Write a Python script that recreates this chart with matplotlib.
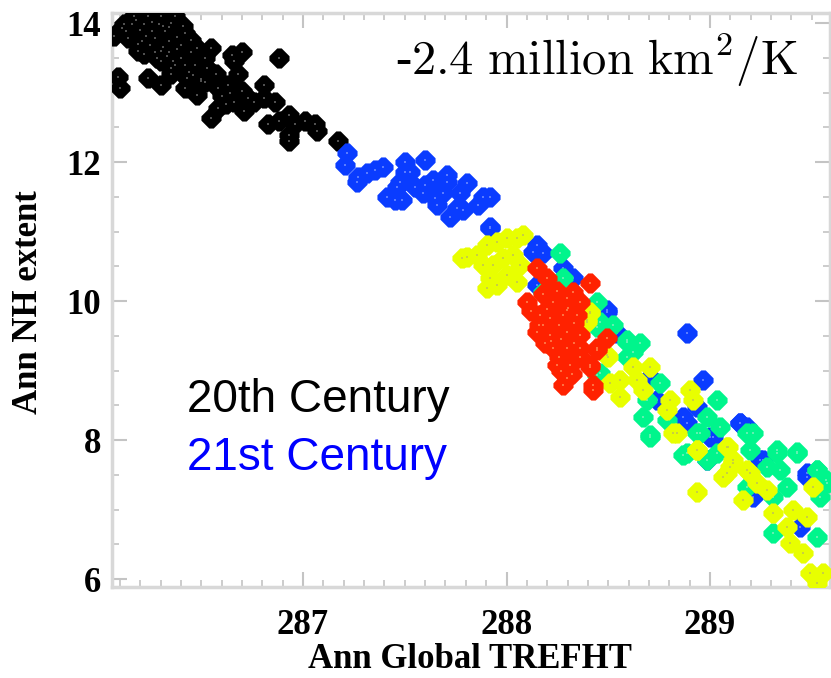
import numpy as np
import matplotlib
matplotlib.use('Agg')
import matplotlib.pyplot as plt
from matplotlib.ticker import MultipleLocator

plt.rcParams['mathtext.fontset'] = 'cm'

# 20th century members (black)
x_20th = [286.07, 286.11, 286.09, 286.10, 286.17, 286.24, 286.30, 286.37, 286.16, 286.22,
          286.29, 286.35, 286.42, 286.45, 286.14, 286.21, 286.27, 286.34, 286.40, 286.45,
          286.27, 286.34, 286.30, 286.37, 286.35, 286.48, 286.55, 286.52, 286.47, 286.53,
          286.65, 286.70, 286.66, 286.88, 286.24, 286.30, 286.43, 286.42, 286.48, 286.50,
          286.57, 286.58, 286.63, 286.68, 286.70, 286.73, 286.66, 286.62, 286.58, 286.55,
          286.71, 286.76, 286.81, 286.81, 286.86, 286.83, 286.88, 286.93, 286.96, 287.01,
          287.06, 287.07, 286.93, 286.93, 287.17, 286.20, 286.26, 286.32, 286.38, 286.25,
          286.31, 286.28, 286.33, 286.40, 286.36, 286.19, 286.23, 286.31, 286.44, 286.50,
          286.13, 286.18, 286.26, 286.34, 286.41, 286.38, 286.30, 286.12, 286.19, 286.22,
          286.35, 286.42, 286.46, 286.52, 286.60, 286.64]
y_20th = [13.81, 13.93, 13.23, 13.07, 14.10, 14.10, 14.10, 14.10, 13.98, 13.98,
          13.98, 14.00, 13.86, 13.76, 13.78, 13.74, 13.78, 13.74, 13.69, 13.59,
          13.59, 13.59, 13.45, 13.40, 13.26, 13.64, 13.64, 13.50, 13.40, 13.35,
          13.54, 13.59, 13.45, 13.50, 13.21, 13.11, 13.21, 13.07, 12.97, 13.16,
          13.26, 13.07, 13.11, 13.26, 13.02, 12.92, 12.87, 12.83, 12.78, 12.63,
          12.73, 12.87, 13.11, 12.92, 12.87, 12.54, 12.59, 12.68, 12.54, 12.59,
          12.54, 12.44, 12.39, 12.30, 12.30, 13.90, 13.88, 13.88, 13.80, 13.68,
          13.66, 13.50, 13.52, 13.50, 13.45, 13.70, 13.82, 13.95, 13.30, 13.20,
          13.88, 14.05, 14.02, 13.94, 13.95, 13.62, 13.60, 13.98, 13.60, 13.55,
          13.35, 13.40, 13.25, 13.15, 12.95, 13.00]

# 21st century members (blue)
x_21st = [287.215, 287.207, 287.272, 287.313, 287.354, 287.395, 287.264, 287.502, 287.502, 287.526,
          287.600, 287.477, 287.461, 287.411, 287.485, 287.452, 287.551, 287.600, 287.641, 287.592,
          287.706, 287.706, 287.649, 287.657, 287.690, 287.805, 287.772, 287.755, 287.723, 287.788,
          287.886, 287.919, 287.862, 287.919,
          287.919, 288.148, 288.181, 288.132, 288.279, 288.328, 288.492, 288.525, 288.148,
          288.492, 288.541, 288.623, 288.885, 288.967, 288.705, 288.738, 288.869, 288.935, 289.148,
          289.180, 289.000, 289.262, 289.475, 288.885, 289.016, 289.147, 288.984, 289.246, 289.475,
          289.442, 289.213]
y_21st = [12.125, 11.957, 11.789, 11.837, 11.885, 11.933, 11.717, 12.005, 11.861, 11.861,
          12.029, 11.717, 11.646, 11.502, 11.454, 11.454, 11.646, 11.670, 11.741, 11.550,
          11.813, 11.717, 11.478, 11.382, 11.550, 11.693, 11.550, 11.334, 11.214, 11.310,
          11.502, 11.502, 11.382, 11.070,
          11.046, 10.806, 10.686, 10.710, 10.470, 10.327, 9.847, 9.559, 10.231,
          9.870, 9.534, 9.343, 9.534, 8.863, 8.911, 8.575, 8.335, 8.479, 8.239,
          8.191, 8.048, 7.712, 7.472, 8.240, 8.048, 8.240, 7.712, 7.712, 7.521,
          6.753, 7.185]

# other ensemble (green)
x_green = [288.263, 288.279, 288.230, 288.181, 288.443, 288.459, 288.525, 288.590, 288.623, 288.443,
           288.443, 288.591, 288.656, 288.591, 288.460, 288.754, 288.689, 288.673, 288.787, 288.705,
           288.885, 289.033, 288.984, 289.049, 288.951, 289.180, 288.984, 289.033, 289.328, 289.426,
           289.279, 289.524, 288.705, 288.869, 288.934, 289.213, 289.197, 289.328, 289.426, 289.344,
           289.377, 289.311, 289.524, 289.541, 289.180, 289.311, 289.524, 289.573, 289.57]
y_green = [10.686, 10.327, 10.231, 10.135, 9.991, 9.703, 9.655, 9.415, 9.271, 8.936,
           9.630, 9.438, 9.390, 9.199, 8.959, 8.815, 8.575, 8.335, 8.287, 8.048,
           7.808, 8.575, 8.335, 8.191, 8.096, 8.096, 7.712, 7.808, 7.808, 7.808,
           7.616, 7.568, 8.072, 7.784, 8.096, 8.096, 7.856, 7.856, 7.832, 7.569,
           7.329, 7.185, 7.569, 7.185, 7.329, 6.657, 6.609, 7.377, 7.42]

# other ensemble (yellow)
x_yellow = [287.804, 287.853, 287.902, 287.951, 288.001, 288.050, 288.083, 287.886, 287.935, 287.984,
            287.919, 287.902, 288.033, 288.066, 288.050, 288.001, 287.951, 287.78,
            288.410, 288.394, 288.492, 288.410, 288.394, 288.501, 288.623, 288.705, 288.558, 288.509,
            288.558, 288.640, 288.673, 288.804, 288.787, 288.902, 288.918, 288.836, 288.935, 289.082,
            289.115, 289.082, 289.197, 288.820, 288.934, 289.090, 289.098, 289.066, 289.180, 289.229,
            289.278, 289.164, 289.311, 289.409, 289.475, 289.377, 289.393, 289.459, 289.491, 289.557,
            289.524, 288.934, 289.115, 289.508]
y_yellow = [10.638, 10.662, 10.806, 10.854, 10.902, 10.902, 10.950, 10.518, 10.518, 10.614,
            10.327, 10.183, 10.662, 10.518, 10.279, 10.375, 10.231, 10.62,
            9.847, 9.703, 9.223, 9.822, 9.726, 9.199, 9.055, 9.055, 8.863, 8.815,
            8.623, 8.863, 8.719, 8.575, 8.431, 8.719, 8.575, 8.096, 7.856, 7.904,
            7.664, 7.520, 7.520, 8.096, 7.856, 7.904, 7.617, 7.473, 7.569, 7.377,
            7.281, 7.137, 6.945, 6.993, 6.897, 6.753, 6.513, 6.370, 6.082, 6.082,
            5.938, 7.257, 7.713, 7.329]

# other ensemble (red)
x_red = [288.148, 288.197, 288.410, 288.099, 288.164, 288.230, 288.295, 288.361, 288.328, 288.214,
         288.279, 288.345, 288.148, 288.214, 288.295, 288.361, 288.230, 288.295, 288.361, 288.246,
         288.312, 288.295, 288.279, 288.492, 288.443, 288.410, 288.426, 288.296, 288.443, 288.410,
         288.427, 288.180, 288.260, 288.330, 288.190, 288.260, 288.180, 288.250, 288.300, 288.200,
         288.160, 288.220, 288.330, 288.270, 288.360, 288.270, 288.320, 288.120]
y_red = [10.470, 10.327, 10.255, 9.991, 9.799, 9.991, 10.039, 9.991, 10.135, 9.751,
         9.799, 9.799, 9.559, 9.511, 9.559, 9.511, 9.319, 9.319, 9.319, 9.080,
         9.080, 8.888, 8.792, 9.463, 9.319, 9.080, 8.792, 9.870, 9.295, 9.055,
         8.719, 9.650, 9.650, 9.680, 9.400, 9.200, 10.100, 10.150, 9.900, 9.880,
         9.650, 9.420, 9.400, 9.450, 9.200, 9.000, 8.950, 9.850]

groups = [(x_20th, y_20th, '#000000', '#505050'),
          (x_21st, y_21st, '#0a3cff', '#5a7cff'),
          (x_green, y_green, '#00f58c', '#60f0b0'),
          (x_yellow, y_yellow, '#e8ff00', '#c8d040'),
          (x_red, y_red, '#ff2200', '#ff7040')]

# diamond with clipped tips, like the plotted symbol
sym = [(-0.22, 1), (0.22, 1), (1, 0.22), (1, -0.22), (0.22, -1), (-0.22, -1), (-1, -0.22), (-1, 0.22)]

fig = plt.figure(figsize=(8.31, 6.78), dpi=100)
ax = fig.add_axes([112 / 831, 1 - 587 / 678, 718 / 831, 574 / 678])

for xs, ys, c, dot in groups:
    ax.scatter(xs, ys, marker=sym, s=210, color=c, linewidths=0, zorder=3)
    ax.scatter(xs, ys, marker='s', s=2, color=dot, linewidths=0, zorder=3)

ax.set_xlim(286.061, 289.59)
ax.set_ylim(5.885, 14.144)
ax.xaxis.set_major_locator(MultipleLocator(1))
ax.xaxis.set_minor_locator(MultipleLocator(0.1))
ax.yaxis.set_major_locator(MultipleLocator(2))
ax.yaxis.set_minor_locator(MultipleLocator(0.5))

for s in ax.spines.values():
    s.set_color('#d8d8d8')
    s.set_linewidth(2.5)
ax.tick_params(which='both', direction='in', top=True, right=True, color='#c4c4c4')
ax.tick_params(which='major', length=11, width=1.5)
ax.tick_params(which='minor', length=5, width=1.2)
ax.tick_params(axis='x', which='major', pad=16)
ax.tick_params(axis='y', which='major', pad=8)

for lab in ax.get_xticklabels() + ax.get_yticklabels():
    lab.set_fontfamily('Liberation Serif')
    lab.set_fontweight('bold')
    lab.set_fontsize(25)

ax.set_xlabel('Ann Global TREFHT', fontfamily='Liberation Serif', fontweight='bold', fontsize=25)
ax.set_ylabel('Ann NH extent', fontfamily='Liberation Serif', fontweight='bold', fontsize=25)
ax.xaxis.set_label_coords(0.499, -0.097)
ax.yaxis.set_label_coords(-0.093, 0.497)

fig.text(395 / 831, 1 - 75 / 678, r'-$\mathrm{2.4\ million\ km^{2}/K}$', fontsize=35,
         fontfamily='Liberation Serif', ha='left', va='baseline')
fig.text(187 / 831, 1 - 412 / 678, '20th Century', fontsize=33, fontfamily='Liberation Sans',
         color='black', ha='left', va='baseline')
fig.text(187 / 831, 1 - 470 / 678, '21st Century', fontsize=33, fontfamily='Liberation Sans',
         color='#0000ff', ha='left', va='baseline')

fig.savefig('out.png', dpi=100)
